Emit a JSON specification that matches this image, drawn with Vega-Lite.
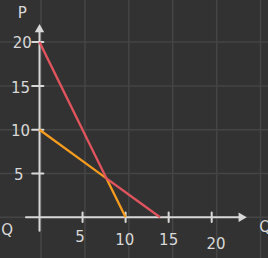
{
  "$schema": "https://vega.github.io/schema/vega-lite/v6.json",
  "width": 268,
  "height": 258,
  "autosize": "none",
  "padding": 0,
  "background": "#323232",
  "config": {"view": {"stroke": null}, "font": "DejaVu Sans"},
  "resolve": {"scale": {"x": "independent"}},
  "layer": [
    {
      "data": {"values": [{"g": 0}, {"g": 5}, {"g": 10}, {"g": 15}, {"g": 20}, {"g": 25}]},
      "mark": {"type": "rule", "color": "#454545", "strokeWidth": 1.5},
      "encoding": {
        "x": {"field": "g", "type": "quantitative", "scale": {"domain": [-4.67, 25.85], "nice": false, "zero": false}, "axis": null}
      }
    },
    {
      "layer": [
        {
          "data": {"values": [{"g": 0}, {"g": 5}, {"g": 10}, {"g": 15}, {"g": 20}]},
          "mark": {"type": "rule", "color": "#454545", "strokeWidth": 1.5},
          "encoding": {
            "y": {"field": "g", "type": "quantitative", "scale": {"domain": [-4.65, 24.81], "nice": false, "zero": false}, "axis": null}
          }
        },
        {
          "data": {"values": [
            {"x1": -1.57, "x2": 23.3, "y1": 0, "y2": 0},
            {"x1": 0, "x2": 0, "y1": -1.55, "y2": 21.4},
            {"x1": 5, "x2": 5, "y1": -0.55, "y2": 0.55},
            {"x1": 10, "x2": 10, "y1": -0.55, "y2": 0.55},
            {"x1": 15, "x2": 15, "y1": -0.55, "y2": 0.55},
            {"x1": 20, "x2": 20, "y1": -0.55, "y2": 0.55},
            {"x1": -0.85, "x2": 0.45, "y1": 5, "y2": 5},
            {"x1": -0.85, "x2": 0.45, "y1": 10, "y2": 10},
            {"x1": -0.85, "x2": 0.45, "y1": 15, "y2": 15},
            {"x1": -0.85, "x2": 0.45, "y1": 20, "y2": 20}
          ]},
          "mark": {"type": "rule", "color": "#d8d8d8", "strokeWidth": 2, "strokeCap": "round"},
          "encoding": {
            "x": {"field": "x1", "type": "quantitative", "scale": {"domain": [-4.59, 26.54], "nice": false, "zero": false}, "axis": null},
            "x2": {"field": "x2"},
            "y": {"field": "y1", "type": "quantitative", "axis": null},
            "y2": {"field": "y2"}
          }
        },
        {
          "data": {"values": [
            {"shape": "triangle-up", "Q": 0, "P": 21.6},
            {"shape": "triangle-right", "Q": 23.6, "P": 0}
          ]},
          "mark": {"type": "point", "filled": true, "opacity": 1, "color": "#d8d8d8", "size": 90},
          "encoding": {
            "x": {"field": "Q", "type": "quantitative", "axis": null},
            "y": {"field": "P", "type": "quantitative", "axis": null},
            "shape": {"field": "shape", "type": "nominal", "scale": null, "legend": null}
          }
        },
        {
          "data": {"values": [
            {"series": "orange", "i": 0, "Q": 0, "P": 10},
            {"series": "orange", "i": 1, "Q": 7.78, "P": 4.44},
            {"series": "orange", "i": 2, "Q": 10, "P": 0},
            {"series": "red", "i": 0, "Q": 0, "P": 20},
            {"series": "red", "i": 1, "Q": 7.78, "P": 4.44},
            {"series": "red", "i": 2, "Q": 14, "P": 0}
          ]},
          "mark": {"type": "line", "strokeWidth": 2.3},
          "encoding": {
            "x": {"field": "Q", "type": "quantitative", "axis": null},
            "y": {"field": "P", "type": "quantitative", "axis": null},
            "color": {"field": "series", "type": "nominal", "scale": {"domain": ["orange", "red"], "range": ["#f59c1f", "#e0545e"]}, "legend": null},
            "order": {"field": "i"}
          }
        },
        {
          "data": {"values": [
            {"label": "P", "Q": -2.0, "P": 23.3},
            {"label": "20", "Q": -2.0, "P": 19.9},
            {"label": "15", "Q": -2.2, "P": 14.8},
            {"label": "10", "Q": -2.2, "P": 9.9},
            {"label": "5", "Q": -2.4, "P": 4.8},
            {"label": "5", "Q": 4.7, "P": -2.3},
            {"label": "10", "Q": 9.9, "P": -2.6},
            {"label": "15", "Q": 15.0, "P": -2.6},
            {"label": "20", "Q": 20.5, "P": -3.0},
            {"label": "Q", "Q": -3.75, "P": -1.45},
            {"label": "Q", "Q": 26.2, "P": -1.1}
          ]},
          "mark": {"type": "text", "color": "#d8d8d8", "fontSize": 15, "align": "center", "baseline": "middle"},
          "encoding": {
            "x": {"field": "Q", "type": "quantitative", "axis": null},
            "y": {"field": "P", "type": "quantitative", "axis": null},
            "text": {"field": "label"}
          }
        }
      ]
    }
  ]
}
